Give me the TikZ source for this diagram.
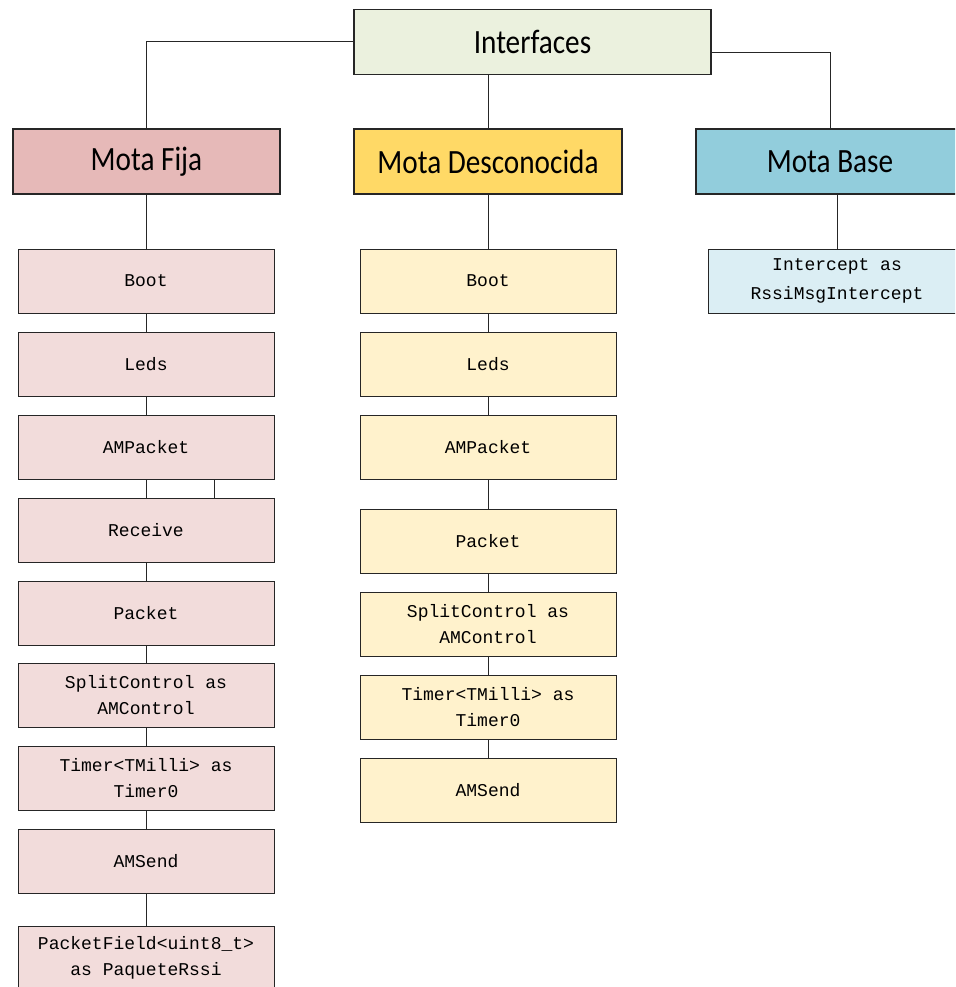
\documentclass[tikz,border=0pt]{standalone}
\usepackage{fontspec}
\newfontfamily\titlefont[FakeStretch=0.86]{Carlito}
\newfontfamily\codefont{Liberation Mono}
\definecolor{interfill}{HTML}{EBF1DE}
\definecolor{fijahead}{HTML}{E6B9B8}
\definecolor{fijabox}{HTML}{F2DCDB}
\definecolor{deschead}{HTML}{FFD966}
\definecolor{descbox}{HTML}{FFF2CC}
\definecolor{basehead}{HTML}{92CDDC}
\definecolor{basebox}{HTML}{DBEEF4}
\definecolor{edge}{HTML}{262626}
\begin{document}
\begin{tikzpicture}[x=1pt,y=-1pt,
  headbox/.style={draw=edge, line width=1.1pt, minimum height=65pt, inner sep=0pt,
    font=\titlefont\fontsize{34}{40}\selectfont},
  ifbox/.style={draw=edge, line width=0.9pt, minimum width=256pt, minimum height=64pt,
    inner sep=0pt, align=center,
    font=\codefont\fontsize{18}{26}\selectfont},
  fijaitem/.style={ifbox, fill=fijabox},
  descitem/.style={ifbox, fill=descbox},
  baseitem/.style={ifbox, fill=basebox, minimum width=258pt},
  link/.style={draw=edge, line width=1pt}]
\useasboundingbox (0,0) rectangle (955,987);
\clip (0,0) rectangle (955,987);

% header row
\node[headbox, fill=interfill, minimum width=357pt] (inter) at (532.5,42) {Interfaces};
\node[headbox, fill=fijahead, minimum width=267pt] (fija) at (146.5,161.5) {Mota Fija};
\node[headbox, fill=deschead, minimum width=268pt] (desc) at (488,161.5) {Mota Desconocida};
\node[headbox, fill=basehead, minimum width=268pt] (base) at (830,161.5) {Mota Base};

% interfaces used by the fixed mote
\node[fijaitem] (f1) at (146,281) {Boot};
\node[fijaitem] (f2) at (146,364) {Leds};
\node[fijaitem] (f3) at (146,447) {AMPacket};
\node[fijaitem] (f4) at (146,530) {Receive};
\node[fijaitem] (f5) at (146,613) {Packet};
\node[fijaitem] (f6) at (146,695) {SplitControl as\\AMControl};
\node[fijaitem] (f7) at (146,778) {Timer<TMilli> as\\Timer0};
\node[fijaitem] (f8) at (146,861) {AMSend};
\node[fijaitem] (f9) at (146,958) {PacketField<uint8\_t>\\as PaqueteRssi};

% interfaces used by the unknown mote
\node[descitem] (d1) at (488,281) {Boot};
\node[descitem] (d2) at (488,364) {Leds};
\node[descitem] (d3) at (488,447) {AMPacket};
\node[descitem] (d4) at (488,541) {Packet};
\node[descitem] (d5) at (488,624) {SplitControl as\\AMControl};
\node[descitem] (d6) at (488,707) {Timer<TMilli> as\\Timer0};
\node[descitem] (d7) at (488,790) {AMSend};

% interfaces used by the base mote
\node[baseitem, font=\codefont\fontsize{18}{29}\selectfont] (b1) at (837,281) {Intercept as\\RssiMsgIntercept};

% tree connectors
\draw[link] (inter.west) -| (fija.north);
\draw[link] (desc.north |- inter.south) -- (desc.north);
\draw[link] ([yshift=-11pt]inter.east) -| (base.north);

\draw[link] (fija.south -| f1.north) -- (f1.north);
\draw[link] (f1.south) -- (f2.north);
\draw[link] (f2.south) -- (f3.north);
\draw[link] (f3.south) -- (f4.north);
\draw[link] ([xshift=68pt]f3.south) -- ([xshift=68pt]f4.north);
\draw[link] (f4.south) -- (f5.north);
\draw[link] (f5.south) -- (f6.north);
\draw[link] (f6.south) -- (f7.north);
\draw[link] (f7.south) -- (f8.north);
\draw[link] (f8.south) -- (f9.north);

\draw[link] (desc.south) -- (d1.north);
\draw[link] (d1.south) -- (d2.north);
\draw[link] (d2.south) -- (d3.north);
\draw[link] (d3.south) -- (d4.north);
\draw[link] (d4.south) -- (d5.north);
\draw[link] (d5.south) -- (d6.north);
\draw[link] (d6.south) -- (d7.north);

\draw[link] (b1.north |- base.south) -- (b1.north);
\end{tikzpicture}
\end{document}
